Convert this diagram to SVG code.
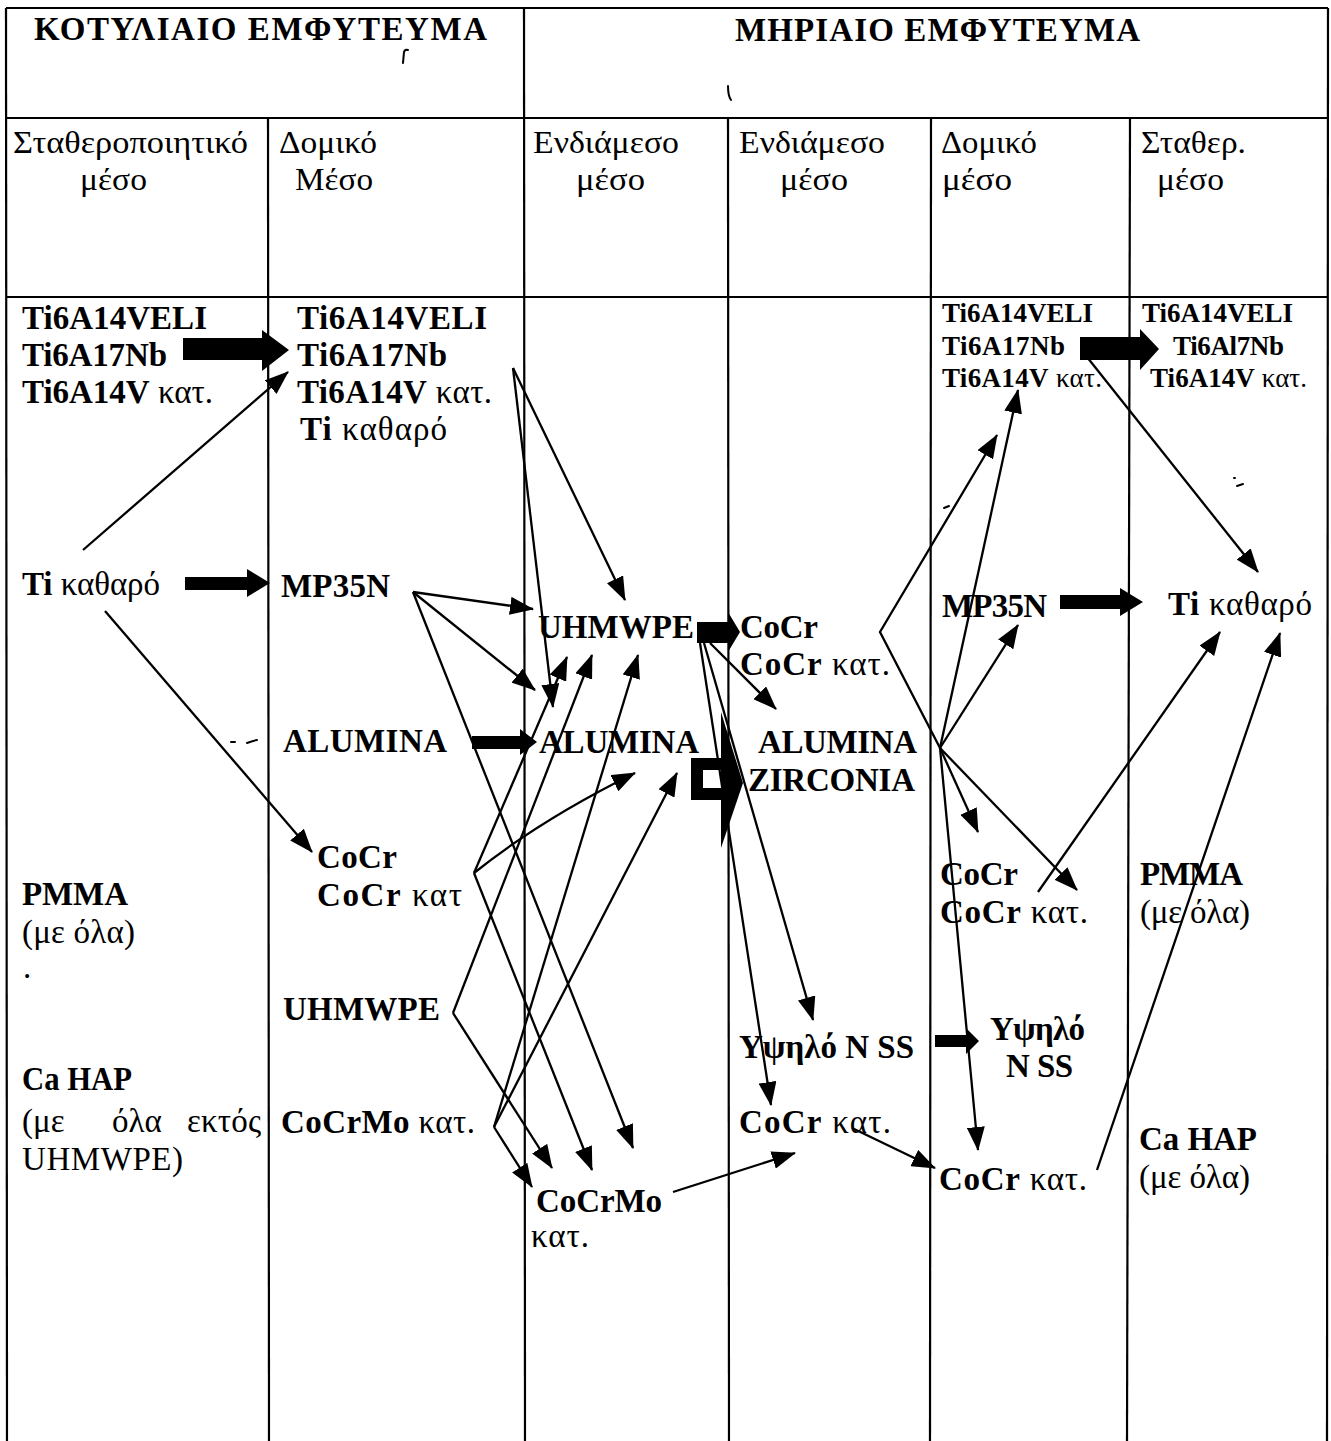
<svg xmlns="http://www.w3.org/2000/svg" width="1331" height="1441" viewBox="0 0 1331 1441">
<style>
text{font-family:"Liberation Serif","DejaVu Serif",serif;font-size:33px;fill:#000}
.b{font-weight:bold}
.s{font-size:27px}
.h{font-size:31px}
.grid{stroke:#000;stroke-width:2.2;fill:none}
.ln{stroke:#000;stroke-width:2.3;fill:none;marker-end:url(#ah)}
.blk{fill:#000;stroke:none}
.mk{stroke:#000;stroke-width:2;fill:none;stroke-linecap:round}
</style>
<defs>
<marker id="ah" viewBox="0 0 24 18" refX="23" refY="9" markerWidth="24" markerHeight="18" markerUnits="userSpaceOnUse" orient="auto">
<path d="M0,0 L24,9 L0,18 z" fill="#000"/>
</marker>
</defs>
<rect width="1331" height="1441" fill="#fff"/>
<g id="table">
<line class="grid" x1="6" y1="8" x2="1328" y2="8"/>
<line class="grid" x1="6" y1="118" x2="1328" y2="118"/>
<line class="grid" x1="6" y1="297" x2="1328" y2="297"/>
<line class="grid" x1="6" y1="8" x2="7" y2="1441"/>
<line class="grid" x1="268" y1="118" x2="269" y2="1441"/>
<line class="grid" x1="524" y1="8" x2="525" y2="1441"/>
<line class="grid" x1="728" y1="118" x2="729" y2="1441"/>
<line class="grid" x1="931" y1="118" x2="930" y2="1441"/>
<line class="grid" x1="1130" y1="118" x2="1127" y2="1441"/>
<line class="grid" x1="1328" y1="8" x2="1327" y2="1441"/>
</g>
<g id="headers">
<text class="b" x="34" y="40" textLength="453">ΚΟΤΥΛΙΑΙΟ  ΕΜΦΥΤΕΥΜΑ</text>
<text class="b" x="735" y="41" textLength="405">ΜΗΡΙΑΙΟ   ΕΜΦΥΤΕΥΜΑ</text>
<text class="h" x="13" y="153" textLength="235" lengthAdjust="spacingAndGlyphs">Σταθεροποιητικό</text>
<text class="h" x="80" y="190" textLength="67" lengthAdjust="spacingAndGlyphs">μέσο</text>
<text class="h" x="279" y="153" textLength="98" lengthAdjust="spacingAndGlyphs">Δομικό</text>
<text class="h" x="295" y="190" textLength="78" lengthAdjust="spacingAndGlyphs">Μέσο</text>
<text class="h" x="533" y="153" textLength="146" lengthAdjust="spacingAndGlyphs">Ενδιάμεσο</text>
<text class="h" x="576" y="190" textLength="69" lengthAdjust="spacingAndGlyphs">μέσο</text>
<text class="h" x="739" y="153" textLength="146" lengthAdjust="spacingAndGlyphs">Ενδιάμεσο</text>
<text class="h" x="780" y="190" textLength="68" lengthAdjust="spacingAndGlyphs">μέσο</text>
<text class="h" x="941" y="153" textLength="96" lengthAdjust="spacingAndGlyphs">Δομικό</text>
<text class="h" x="942" y="190" textLength="70" lengthAdjust="spacingAndGlyphs">μέσο</text>
<text class="h" x="1141" y="153" textLength="105" lengthAdjust="spacingAndGlyphs">Σταθερ.</text>
<text class="h" x="1157" y="190" textLength="67" lengthAdjust="spacingAndGlyphs">μέσο</text>
</g>
<g id="n-c1-ti">
<text class="b" x="22" y="329" textLength="185">Ti6A14VELI</text>
<text class="b" x="22" y="366" textLength="145">Ti6A17Nb</text>
<text x="22" y="403" textLength="191"><tspan class="b">Ti6A14V</tspan> κατ.</text>
</g>
<g id="n-c1-tipure"><text x="22" y="595" textLength="138"><tspan class="b">Ti</tspan> καθαρό</text></g>
<g id="n-c1-pmma">
<text class="b" x="22" y="905" textLength="106">PMMA</text>
<text x="22" y="943" textLength="113">(με όλα)</text>
<text x="23" y="978">.</text>
</g>
<g id="n-c1-cahap">
<text class="b" x="22" y="1090" textLength="110" lengthAdjust="spacingAndGlyphs">Ca HAP</text>
<text x="22" y="1132">(με</text>
<text x="112" y="1132">όλα</text>
<text x="187" y="1132" textLength="74">εκτός</text>
<text x="22" y="1170" textLength="161">UHMWPE)</text>
</g>
<g id="n-c2-ti">
<text class="b" x="297" y="329" textLength="190">Ti6A14VELI</text>
<text class="b" x="297" y="366" textLength="150">Ti6A17Nb</text>
<text x="297" y="403" textLength="195"><tspan class="b">Ti6A14V</tspan> κατ.</text>
<text x="300" y="440" textLength="147"><tspan class="b">Ti</tspan>  καθαρό</text>
</g>
<g id="n-c2-mp35n"><text class="b" x="281" y="597" textLength="109">MP35N</text></g>
<g id="n-c2-alumina"><text class="b" x="283" y="752" textLength="164">ALUMINA</text></g>
<g id="n-c2-cocr">
<text class="b" x="317" y="868" textLength="80">CoCr</text>
<text x="317" y="906" textLength="145"><tspan class="b">CoCr</tspan>  κατ</text>
</g>
<g id="n-c2-uhmwpe"><text class="b" x="283" y="1020" textLength="157">UHMWPE</text></g>
<g id="n-c2-cocrmo"><text x="281" y="1133" textLength="194"><tspan class="b">CoCrMo</tspan> κατ.</text></g>
<g id="n-c3-uhmwpe"><text class="b" x="538" y="638" textLength="156">UHMWPE</text></g>
<g id="n-c3-alumina"><text class="b" x="539" y="753" textLength="160">ALUMINA</text></g>
<g id="n-c3-cocrmo">
<text class="b" x="536" y="1212" textLength="126">CoCrMo</text>
<text x="531" y="1247" textLength="58">κατ.</text>
</g>
<g id="n-c4-cocr">
<text class="b" x="740" y="638" textLength="78">CoCr</text>
<text x="740" y="675" textLength="150"><tspan class="b">CoCr</tspan>  κατ.</text>
</g>
<g id="n-c4-az">
<text class="b" x="758" y="753" textLength="159">ALUMINA</text>
<text class="b" x="748" y="791" textLength="167">ZIRCONIA</text>
</g>
<g id="n-c4-nss"><text class="b" x="739" y="1058" textLength="175">Υψηλό N SS</text></g>
<g id="n-c4-cocrk"><text x="739" y="1133" textLength="152"><tspan class="b">CoCr</tspan>  κατ.</text></g>
<g id="n-c5-ti">
<text class="b s" x="942" y="322" textLength="151">Ti6A14VELI</text>
<text class="b s" x="942" y="355" textLength="123">Ti6A17Nb</text>
<text class="s" x="942" y="387" textLength="160"><tspan class="b">Ti6A14V</tspan> κατ.</text>
</g>
<g id="n-c5-mp35n"><text class="b" x="942" y="617" textLength="105">MP35N</text></g>
<g id="n-c5-cocr">
<text class="b" x="940" y="885" textLength="78">CoCr</text>
<text x="940" y="923" textLength="148"><tspan class="b">CoCr</tspan>  κατ.</text>
</g>
<g id="n-c5-nss">
<text class="b" x="990" y="1040" textLength="95">Υψηλό</text>
<text class="b" x="1006" y="1077" textLength="67">N SS</text>
</g>
<g id="n-c5-cocrk"><text x="939" y="1190" textLength="148"><tspan class="b">CoCr</tspan>  κατ.</text></g>
<g id="n-c6-ti">
<text class="b s" x="1142" y="322" textLength="151">Ti6A14VELI</text>
<text class="b s" x="1173" y="355" textLength="111">Ti6Al7Nb</text>
<text class="s" x="1150" y="387" textLength="157"><tspan class="b">Ti6A14V</tspan> κατ.</text>
</g>
<g id="n-c6-tipure"><text x="1168" y="615" textLength="144"><tspan class="b">Ti</tspan>  καθαρό</text></g>
<g id="n-c6-pmma">
<text class="b" x="1140" y="885" textLength="103">PMMA</text>
<text x="1140" y="923" textLength="110">(με όλα)</text>
</g>
<g id="n-c6-cahap">
<text class="b" x="1139" y="1150" textLength="118" lengthAdjust="spacingAndGlyphs">Ca HAP</text>
<text x="1139" y="1188" textLength="111">(με όλα)</text>
</g>
<g id="connectors">
<polygon class="blk" points="183,338 262,338 262,330 289,350 262,371 262,360 183,360"/>
<polygon class="blk" points="185,577 247,577 247,569 270,583 247,597 247,590 185,590"/>
<polygon class="blk" points="472,736 520,736 520,729 537,742 520,755 520,749 472,749"/>
<polygon class="blk" points="697,622 728,622 728,612 740,632 728,652 728,643 697,643"/>
<path class="blk" fill-rule="evenodd" d="M691,758 H727 V800 H691 Z M703,770 V788 H722 V770 Z"/>
<polygon class="blk" points="721,712 743,783 721,848"/>
<polygon class="blk" points="1080,337 1140,337 1140,329 1159,349 1140,370 1140,360 1080,360"/>
<polygon class="blk" points="1060,595 1120,595 1120,588 1143,602 1120,616 1120,609 1060,609"/>
<polygon class="blk" points="935,1035 966,1035 966,1028 979,1041 966,1054 966,1047 935,1047"/>
<line class="ln" x1="83" y1="550" x2="288" y2="372"/>
<line class="ln" x1="105" y1="611" x2="312" y2="852"/>
<line class="ln" x1="513" y1="368" x2="625" y2="600"/>
<line class="ln" x1="513" y1="368" x2="553" y2="707"/>
<line class="ln" x1="413" y1="592" x2="533" y2="609"/>
<line class="ln" x1="413" y1="592" x2="535" y2="690"/>
<line class="ln" x1="413" y1="592" x2="633" y2="1148"/>
<path class="ln" d="M474,873 Q540,820 635,773"/>
<line class="ln" x1="474" y1="873" x2="567" y2="657"/>
<line class="ln" x1="474" y1="873" x2="592" y2="1170"/>
<line class="ln" x1="453" y1="1013" x2="592" y2="655"/>
<line class="ln" x1="453" y1="1013" x2="552" y2="1168"/>
<line class="ln" x1="494" y1="1127" x2="638" y2="655"/>
<line class="ln" x1="494" y1="1127" x2="677" y2="773"/>
<line class="ln" x1="494" y1="1127" x2="532" y2="1187"/>
<line class="ln" x1="673" y1="1192" x2="795" y2="1153"/>
<line class="ln" x1="710" y1="643" x2="776" y2="709"/>
<line class="ln" x1="704" y1="643" x2="813" y2="1020"/>
<line class="ln" x1="700" y1="643" x2="771" y2="1105"/>
<polyline class="ln" points="940,748 880,632 997,435"/>
<line class="ln" x1="940" y1="748" x2="1077" y2="890"/>
<line class="ln" x1="940" y1="748" x2="1018" y2="390"/>
<line class="ln" x1="940" y1="748" x2="1018" y2="625"/>
<line class="ln" x1="940" y1="748" x2="978" y2="832"/>
<line class="ln" x1="940" y1="748" x2="978" y2="1150"/>
<line class="ln" x1="1087" y1="357" x2="1258" y2="572"/>
<line class="ln" x1="1038" y1="892" x2="1220" y2="632"/>
<line class="ln" x1="1097" y1="1170" x2="1280" y2="633"/>
<line class="ln" x1="852" y1="1128" x2="935" y2="1168"/>
</g>
<g id="marks">
<path class="mk" d="M403,63 L404,52 Q405,49 408,50"/>
<path class="mk" d="M728,86 Q728,96 731,100"/>
<path class="mk" d="M231,742 L235,742 M247,743 Q252,741 257,740"/>
<path class="mk" d="M944,508 L949,506"/>
<path class="mk" d="M1234,478 L1235,478 M1237,486 L1243,484"/>
</g>
</svg>
